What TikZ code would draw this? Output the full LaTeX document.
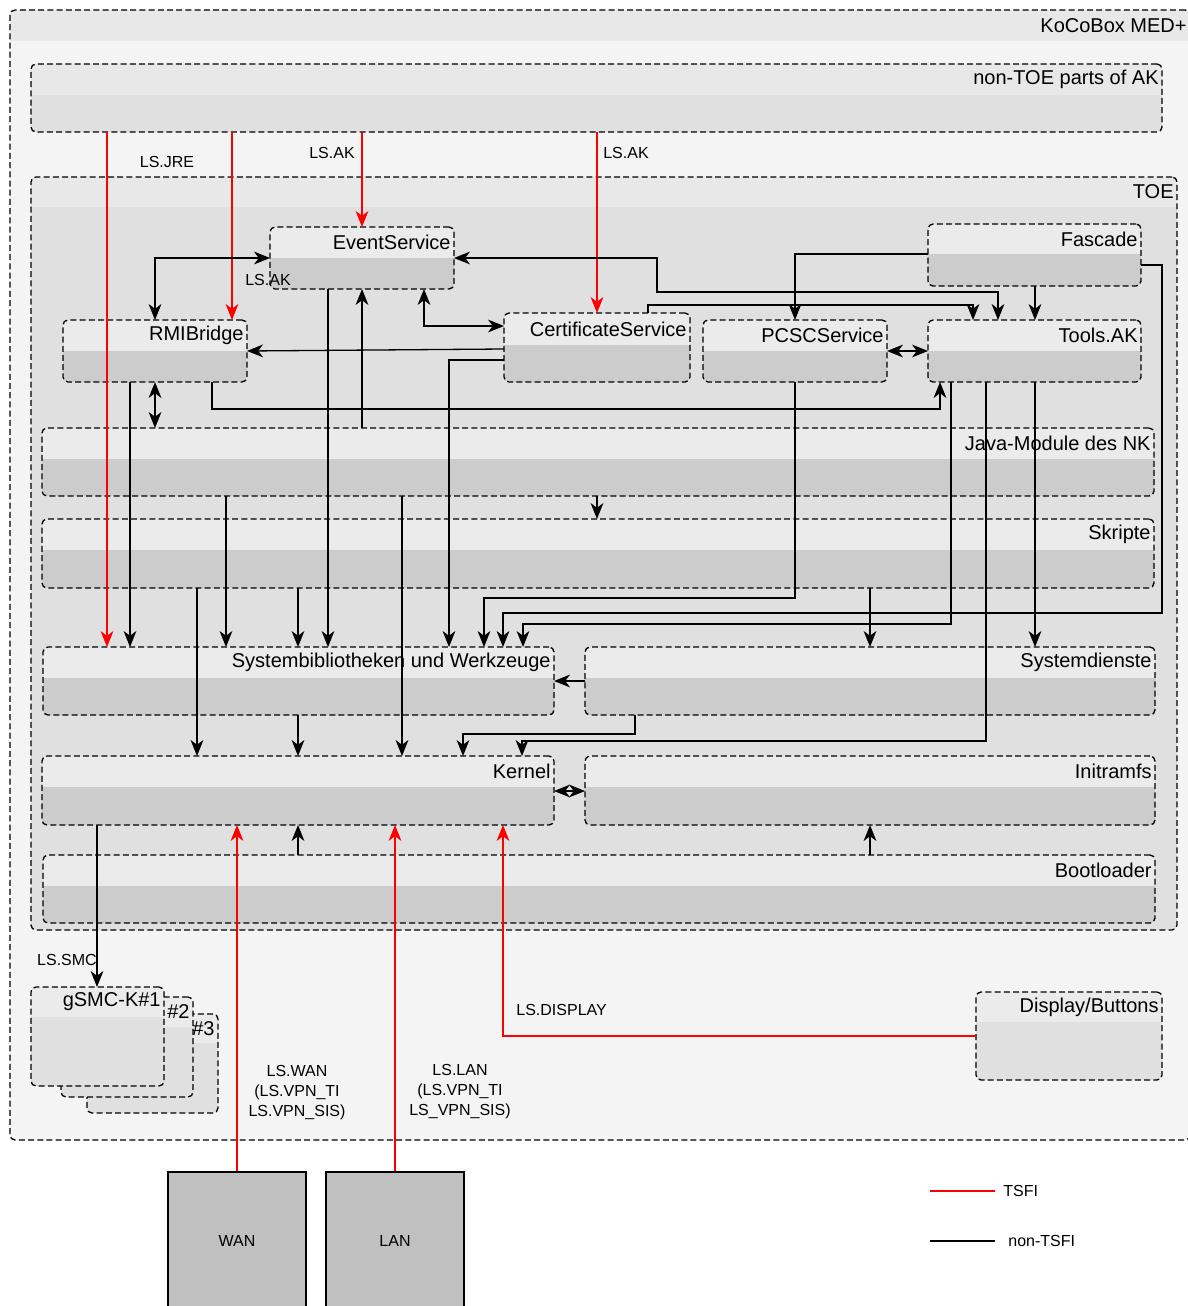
\documentclass[tikz,border=0pt]{standalone}
\usepackage{fontspec}
\setmainfont{Liberation Sans}
\usetikzlibrary{arrows.meta}
\definecolor{outerhdr}{HTML}{E8E8E8}
\definecolor{outerbody}{HTML}{F4F4F4}
\definecolor{lanebody}{HTML}{E0E0E0}
\definecolor{boxhdr}{HTML}{EBEBEB}
\definecolor{boxbody}{HTML}{CCCCCC}
\definecolor{netgray}{HTML}{C0C0C0}
\tikzset{
  >={Stealth[length=8pt,width=6.4pt,inset=2.4pt]},
  lane/.style={draw, line width=0.65pt, dash pattern=on 3pt off 1.6pt, rounded corners=2.5pt, inner sep=0pt, outer sep=0pt},
  lanetitle/.style={anchor=east, inner sep=1.5pt, font=\fontsize{10}{12}\selectfont},
  flow/.style={->, line width=0.65pt},
  tsfi/.style={flow, red},
  lbl/.style={inner sep=0pt, font=\fontsize{8}{10}\selectfont},
  net/.style={draw, line width=0.65pt, fill=netgray, inner sep=0pt, minimum width=69pt, minimum height=69pt, font=\fontsize{8}{10}\selectfont}
}
\newcommand{\swimbox}[9]{%
  \begin{scope}
    \clip[rounded corners=2.5pt] (#2,#3) rectangle (#4,#5);
    \fill[#8] (#2,#3) rectangle (#4,#5);
    \fill[#7] (#2,#3) rectangle (#4,#6);
  \end{scope}
  \node[lane, minimum width={(#4-#2)*0.5pt}, minimum height={(#5-#3)*0.5pt}] (#1) at ({(#2+#4)/2},{(#3+#5)/2}) {};
  \node[lanetitle] at (#4,{(#3+#6)/2}) {#9};
}
\begin{document}
\begin{tikzpicture}[x=0.5pt,y=-0.5pt]
  \useasboundingbox[fill=white] (0,0) rectangle (1188,1306);
  \swimbox{kocobox}{10}{10}{1190}{1140}{41}{outerhdr}{outerbody}{KoCoBox MED+}
  \swimbox{nontoe}{31}{64}{1162}{132}{95}{outerhdr}{lanebody}{non-TOE parts of AK}
  \swimbox{toe}{31}{177}{1177}{930}{207}{outerhdr}{lanebody}{TOE}
  \swimbox{evt}{270}{227}{454}{289}{258}{boxhdr}{boxbody}{EventService}
  \swimbox{rmi}{63}{320}{247}{382}{351}{boxhdr}{boxbody}{RMIBridge}
  \swimbox{cert}{504}{313}{690}{382}{345}{boxhdr}{boxbody}{CertificateService}
  \swimbox{pcsc}{703}{320}{887}{382}{351}{boxhdr}{boxbody}{PCSCService}
  \swimbox{tools}{928}{320}{1141}{382}{351}{boxhdr}{boxbody}{Tools.AK}
  \swimbox{fascade}{928}{224}{1141}{286}{254}{boxhdr}{boxbody}{Fascade}
  \swimbox{java}{42}{428}{1154}{496}{459}{boxhdr}{boxbody}{Java-Module des NK}
  \swimbox{skripte}{42}{519}{1154}{588}{550}{boxhdr}{boxbody}{Skripte}
  \swimbox{sysbib}{43}{647}{554}{715}{678}{boxhdr}{boxbody}{Systembibliotheken und Werkzeuge}
  \swimbox{sysdienst}{585}{647}{1155}{715}{678}{boxhdr}{boxbody}{Systemdienste}
  \swimbox{kernel}{42}{756}{554}{825}{787}{boxhdr}{boxbody}{Kernel}
  \swimbox{initramfs}{585}{756}{1155}{825}{787}{boxhdr}{boxbody}{Initramfs}
  \swimbox{boot}{43}{855}{1155}{923}{886}{boxhdr}{boxbody}{Bootloader}
  \swimbox{smcc}{87}{1014}{218}{1113}{1043}{boxhdr}{lanebody}{\#3}
  \swimbox{smcb}{61}{997}{193}{1097}{1027}{boxhdr}{lanebody}{\#2}
  \swimbox{smca}{31}{987}{164}{1086}{1017}{boxhdr}{lanebody}{gSMC-K\#1}
  \swimbox{display}{976}{992}{1162}{1080}{1022}{boxhdr}{lanebody}{Display/Buttons}
  \node[net] (wan) at (237,1241) {WAN};
  \node[net] (lan) at (395,1241) {LAN};

  \draw[tsfi] (nontoe.south -| 107,0) -- (sysbib.north -| 107,0);
  \draw[tsfi] (nontoe.south -| 232,0) -- (rmi.north -| 232,0);
  \draw[tsfi] (nontoe.south -| 362,0) -- (evt.north -| 362,0);
  \draw[tsfi] (nontoe.south -| 597,0) -- (cert.north -| 597,0);
  \draw[tsfi] (wan.north) -- (kernel.south -| wan.north);
  \draw[tsfi] (lan.north) -- (kernel.south -| lan.north);
  \draw[tsfi] (display.west |- 0,1036) -| (kernel.south -| 503,0);

  \draw[flow,<->] (evt.west |- 0,258) -| (rmi.north -| 155,0);
  \draw[flow,<->] (evt.east |- 0,258) -- (657,258) |- (998,292) -- (tools.north -| 998,0);
  \draw[flow] (fascade.west |- 0,254) -| (pcsc.north -| 795,0);
  \draw[flow] (fascade.south -| 1035,0) -- (tools.north -| 1035,0);
  \draw[flow] (fascade.east |- 0,265) -- (1162,265) |- (503,613) -- (sysbib.north -| 503,0);
  \draw[flow] (cert.north -| 648,0) |- (973,305) -- (tools.north -| 973,0);
  \draw[flow,<->] (evt.south -| 424,0) |- (cert.west |- 0,326);
  \draw[flow] (cert.west |- 0,349) -- (rmi.east |- 0,351);
  \draw[flow] (cert.west |- 0,360) -| (sysbib.north -| 449,0);
  \draw[flow,<->] (rmi.south -| 155,0) -- (java.north -| 155,0);
  \draw[flow] (rmi.south -| 212,0) |- (940,409) -- (tools.south -| 940,0);
  \draw[flow] (rmi.south -| 130,0) -- (sysbib.north -| 130,0);
  \draw[flow] (evt.south -| 328,0) -- (sysbib.north -| 328,0);
  \draw[flow] (java.north -| 362,0) -- (evt.south -| 362,0);
  \draw[flow] (java.south -| 226,0) -- (sysbib.north -| 226,0);
  \draw[flow] (java.south -| 402,0) -- (kernel.north -| 402,0);
  \draw[flow] (java.south -| 597,0) -- (skripte.north -| 597,0);
  \draw[flow] (skripte.south -| 197,0) -- (kernel.north -| 197,0);
  \draw[flow] (skripte.south -| 298,0) -- (sysbib.north -| 298,0);
  \draw[flow] (skripte.south -| 870,0) -- (sysdienst.north -| 870,0);
  \draw[flow] (pcsc.south -| 795,0) |- (484,598) -- (sysbib.north -| 484,0);
  \draw[flow,<->] (pcsc.east |- 0,351) -- (tools.west |- 0,351);
  \draw[flow] (tools.south -| 951,0) |- (523,624) -- (sysbib.north -| 523,0);
  \draw[flow] (tools.south -| 986,0) |- (522,741) -- (kernel.north -| 522,0);
  \draw[flow] (tools.south -| 1035,0) -- (sysdienst.north -| 1035,0);
  \draw[flow] (sysdienst.west |- 0,681) -- (sysbib.east |- 0,681);
  \draw[flow] (sysdienst.south -| 635,0) |- (463,734) -- (kernel.north -| 463,0);
  \draw[flow] (sysbib.south -| 298,0) -- (kernel.north -| 298,0);
  \draw[flow,<->] (kernel.east |- 0,791) -- (initramfs.west |- 0,791);
  \draw[flow] (boot.north -| 298,0) -- (kernel.south -| 298,0);
  \draw[flow] (boot.north -| 870,0) -- (initramfs.south -| 870,0);
  \draw[flow] (kernel.south -| 97,0) -- (smca.north -| 97,0);

  \node[lbl] (lsjre) at (167,162) {LS.JRE};
  \node[lbl] (lsak1) at (332,153) {LS.AK};
  \node[lbl] (lsak2) at (626,153) {LS.AK};
  \node[lbl] (lsak3) at (268,280) {LS.AK};
  \node[lbl] (lssmc) at (67,960) {LS.SMC};
  \node[lbl, align=center] (lswan) at (297,1093) {LS.WAN\\(LS.VPN\_TI\\LS.VPN\_SIS)};
  \node[lbl, align=center] (lslan) at (460,1092) {LS.LAN\\(LS.VPN\_TI\\LS\_VPN\_SIS)};
  \node[lbl, anchor=west] (lsdisp) at (516,1010) {LS.DISPLAY};

  \node[lbl, anchor=west] (legtsfi) at (1003,1191) {TSFI};
  \node[lbl, anchor=west] (legnon) at (1008,1241) {non-TSFI};
  \draw[red, line width=0.65pt] (930,1191) -- (995,1191);
  \draw[line width=0.65pt] (930,1241) -- (995,1241);
\end{tikzpicture}
\end{document}
